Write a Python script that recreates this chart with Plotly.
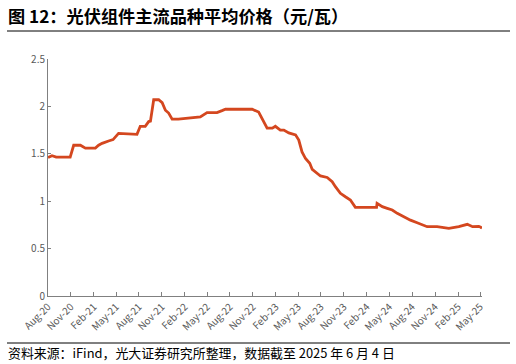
import plotly.graph_objects as go

dates = [
    "2020-08-01", "2020-08-17", "2020-09-03", "2020-10-29", "2020-11-12", "2020-12-09",
    "2020-12-29", "2021-02-07", "2021-02-20", "2021-03-06", "2021-04-01", "2021-04-19",
    "2021-05-11", "2021-06-27", "2021-07-24", "2021-08-06", "2021-08-26", "2021-09-09",
    "2021-09-16", "2021-09-29", "2021-10-19", "2021-11-02", "2021-11-15", "2021-11-28",
    "2021-12-12", "2022-01-06", "2022-02-23", "2022-04-04", "2022-05-01", "2022-06-10",
    "2022-06-30", "2022-07-14", "2022-10-29", "2022-11-24", "2022-12-10", "2022-12-28",
    "2023-01-18", "2023-01-30", "2023-02-19", "2023-03-05", "2023-03-25", "2023-04-21",
    "2023-05-04", "2023-05-17", "2023-05-31", "2023-06-17", "2023-06-27", "2023-07-17",
    "2023-07-30", "2023-08-26", "2023-09-15", "2023-09-28", "2023-10-18", "2023-11-07",
    "2023-11-27", "2023-12-17", "2024-03-11", "2024-03-13", "2024-04-03", "2024-04-23",
    "2024-05-13", "2024-06-02", "2024-06-28", "2024-07-25", "2024-08-21", "2024-09-16",
    "2024-09-30", "2024-11-09", "2024-12-06", "2024-12-26", "2025-02-04", "2025-03-10",
    "2025-03-31", "2025-04-15", "2025-04-25", "2025-05-03", "2025-05-08",
]
prices = [
    1.46, 1.48, 1.465, 1.465, 1.59, 1.59,
    1.56, 1.56, 1.59, 1.61, 1.635, 1.65,
    1.715, 1.71, 1.705, 1.79, 1.79, 1.84,
    1.845, 2.07, 2.07, 2.04, 1.96, 1.93,
    1.865, 1.865, 1.88, 1.89, 1.935, 1.935,
    1.955, 1.97, 1.97, 1.94, 1.86, 1.77,
    1.77, 1.79, 1.75, 1.75, 1.72, 1.70,
    1.645, 1.52, 1.45, 1.40, 1.335, 1.295,
    1.266, 1.25, 1.205, 1.153, 1.083, 1.047,
    1.013, 0.935, 0.935, 0.978, 0.942, 0.925,
    0.907, 0.872, 0.837, 0.80, 0.773, 0.749,
    0.731, 0.731, 0.725, 0.714, 0.731, 0.756,
    0.731, 0.73, 0.735, 0.725, 0.715,
]
tick_vals = [
    "2020-08-01", "2020-11-01", "2021-02-01", "2021-05-01", "2021-08-01", "2021-11-01",
    "2022-02-01", "2022-05-01", "2022-08-01", "2022-11-01", "2023-02-01", "2023-05-01",
    "2023-08-01", "2023-11-01", "2024-02-01", "2024-05-01", "2024-08-01", "2024-11-01",
    "2025-02-01", "2025-05-01",
]
tick_text = [
    "Aug-20", "Nov-20", "Feb-21", "May-21", "Aug-21", "Nov-21", "Feb-22", "May-22",
    "Aug-22", "Nov-22", "Feb-23", "May-23", "Aug-23", "Nov-23", "Feb-24", "May-24",
    "Aug-24", "Nov-24", "Feb-25", "May-25",
]
y_ticks = [0, 0.5, 1, 1.5, 2, 2.5]
y_text = ["0", "0.5", "1", "1.5", "2", "2.5"]

title_text = "图 12：光伏组件主流品种平均价格（元/瓦）"
source_text = "资料来源：iFind，光大证券研究所整理，数据截至 2025 年 6 月 4 日"

FONT = "Noto Sans CJK SC"

fig = go.Figure()
fig.add_trace(go.Scatter(
    x=dates, y=prices, mode="lines",
    line=dict(color="#D4471F", width=2.8),
    hoverinfo="skip", showlegend=False,
))

L, R, T, B = 48, 34, 59, 68
W, H = 516, 364
pw = W - L - R
ph = H - T - B

def px(x):
    return (x - L) / pw

def py(y):
    return (H - B - y) / ph

fig.update_layout(
    width=W, height=H,
    margin=dict(l=L, r=R, t=T, b=B, autoexpand=False),
    paper_bgcolor="white", plot_bgcolor="white",
    font=dict(family=FONT, color="#595959", size=10),
    xaxis=dict(
        type="date", range=["2020-08-01", "2025-05-08"],
        tickvals=tick_vals, ticktext=tick_text, tickangle=-45,
        showgrid=False, zeroline=False, automargin=False,
        showline=True, linecolor="#808080", linewidth=1,
        ticks="inside", ticklen=4, tickcolor="#808080",
        tickfont=dict(size=10, color="#595959"),
    ),
    yaxis=dict(
        range=[0, 2.5], tickvals=y_ticks, ticktext=y_text,
        showgrid=False, zeroline=False, automargin=False,
        showline=True, linecolor="#808080", linewidth=1,
        ticks="inside", ticklen=3, tickcolor="#808080",
        tickfont=dict(size=10, color="#595959"),
    ),
    annotations=[
        dict(text="<b>" + title_text + "</b>", xref="paper", yref="paper",
             x=px(6), y=py(15), xanchor="left", yanchor="middle", showarrow=False,
             font=dict(family=FONT, size=17.2, color="#000000")),
        dict(text=source_text, xref="paper", yref="paper",
             x=px(6), y=py(352), xanchor="left", yanchor="middle", showarrow=False,
             font=dict(family=FONT, size=12.9, color="#000000")),
    ],
    shapes=[
        dict(type="line", xref="paper", yref="paper", x0=px(7), x1=px(510),
             y0=py(31), y1=py(31), line=dict(color="#000000", width=1)),
        dict(type="line", xref="paper", yref="paper", x0=px(7), x1=px(510),
             y0=py(343), y1=py(343), line=dict(color="#000000", width=1)),
    ],
)

fig.write_html(
    "out.html",
    config={"displayModeBar": False},
    post_script="document.body.style.margin='0';document.body.style.overflow='hidden';",
)
